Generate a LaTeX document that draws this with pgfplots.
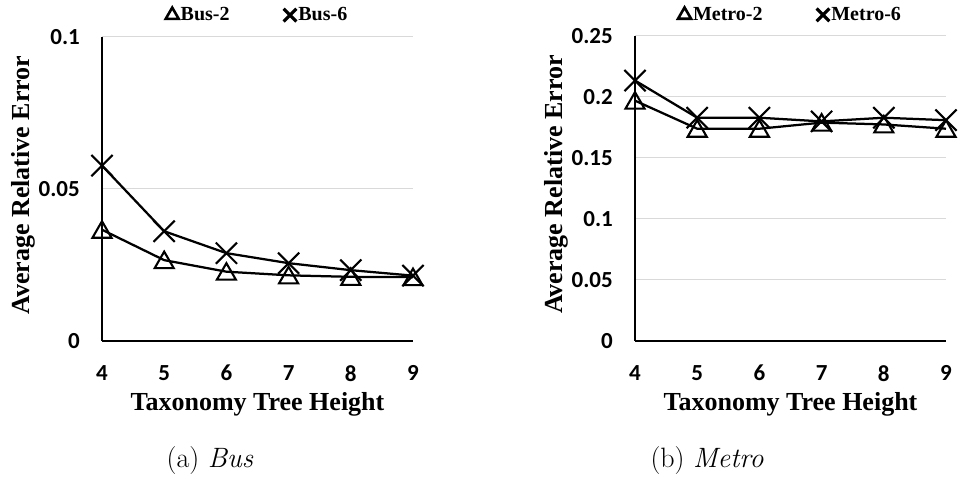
\documentclass[border=0pt]{standalone}
\usepackage{pgfplots}
\pgfplotsset{compat=1.18}
\usepackage{fontspec}
\newfontfamily\tnrfont{Liberation Serif}
\newfontfamily\calfont{Carlito}

\pgfplotsset{
 myax/.style={
  scale only axis, width=311pt,
  axis x line=bottom, axis y line=left,
  axis line style={-, line width=2pt, black},
  xmin=4, xmax=9, xtick={4,5,6,7,8,9}, xticklabels={4,5,6,7,8,9},
  major tick length=0pt,
  ymajorgrids, grid style={line width=1pt, color=black!15},
  ticklabel style={font=\fontsize{23}{28}\selectfont\calfont\bfseries, inner sep=0pt},
  xticklabel style={anchor=north, yshift=-24pt},
  yticklabel style={anchor=east, xshift=-22pt},
  xlabel={Taxonomy Tree Height}, ylabel={Average Relative Error},
  label style={font=\fontsize{26}{30}\selectfont\tnrfont\bfseries},
  xlabel style={at={(axis description cs:0.5,-0.227)}, anchor=base},
  ylabel style={at={(axis description cs:-0.254,0.513)}, anchor=center},
  clip=false,
  legend columns=2,
  legend style={draw=none, fill=none, font=\fontsize{20}{24}\selectfont\tnrfont\bfseries,
    anchor=center, /tikz/every even column/.append style={column sep=52pt}},
 },
 tri/.style={black, line width=2.25pt, mark=triangle, mark size=11pt,
   mark options={fill=white, line width=2.1pt, solid, yshift=-2.5pt},
   legend image code/.code={\draw[##1, mark size=7.5pt, mark options={line width=2.6pt, yshift=0pt}] plot coordinates {(0pt,0pt)};}},
 crs/.style={black, line width=2.25pt, mark=x, mark size=15pt,
   mark options={line width=2.1pt, solid},
   legend image code/.code={\draw[##1, mark size=9pt, mark options={line width=3.2pt}] plot coordinates {(0pt,0pt)};}},
}

\begin{document}
\begin{tikzpicture}
\useasboundingbox (0,0) rectangle (960pt,476pt);

\begin{axis}[myax, height=304pt, at={(102pt,135pt)}, anchor=south west,
  ymin=0, ymax=0.1, ytick={0,0.05,0.1}, yticklabels={0,0.05,0.1},
  legend style={at={(axis description cs:0.5,1.072)}}]
\addplot[tri] coordinates {(4,0.0366) (5,0.0266) (6,0.0228) (7,0.0216) (8,0.0211) (9,0.0210)};
\addlegendentry{Bus-2}
\addplot[crs] coordinates {(4,0.0577) (5,0.0361) (6,0.0289) (7,0.0256) (8,0.0233) (9,0.0215)};
\addlegendentry{Bus-6}
\end{axis}

\begin{axis}[myax, height=305pt, at={(635pt,135pt)}, anchor=south west,
  ymin=0, ymax=0.25, ytick={0,0.05,0.1,0.15,0.2,0.25}, yticklabels={0,0.05,0.1,0.15,0.2,0.25},
  legend style={at={(axis description cs:0.5,1.069)}}]
\addplot[tri] coordinates {(4,0.197) (5,0.174) (6,0.174) (7,0.179) (8,0.1775) (9,0.174)};
\addlegendentry{Metro-2}
\addplot[crs] coordinates {(4,0.2135) (5,0.183) (6,0.183) (7,0.180) (8,0.183) (9,0.181)};
\addlegendentry{Metro-6}
\end{axis}

\node[font=\fontsize{28}{34}\selectfont, anchor=base] at (210pt,9pt) {(a) \textit{Bus}};
\node[font=\fontsize{28}{34}\selectfont, anchor=base] at (707pt,9pt) {(b) \textit{Metro}};
\end{tikzpicture}
\end{document}
